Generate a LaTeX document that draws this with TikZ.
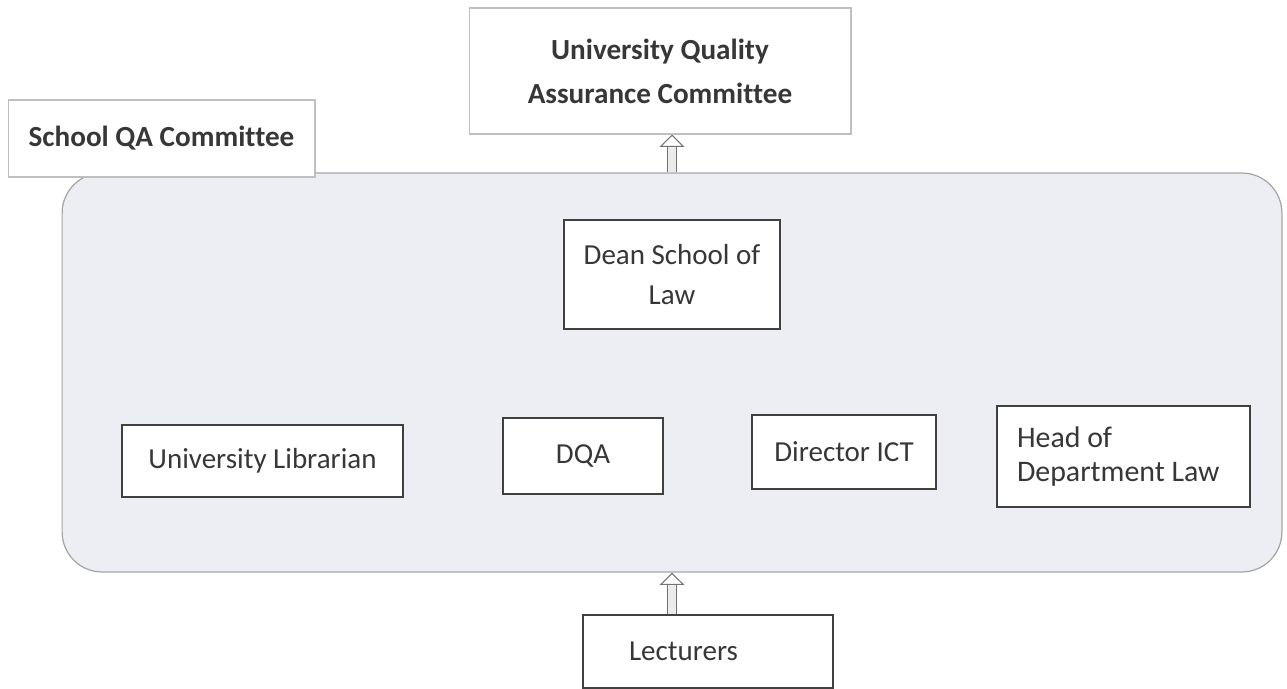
\documentclass[tikz,border=0pt]{standalone}
\usepackage{fontspec}
\setmainfont{Carlito}[Ligatures=NoCommon]
\usetikzlibrary{arrows.meta}
\definecolor{groupfill}{RGB}{236,238,244}
\definecolor{inkgray}{RGB}{55,55,55}
\tikzset{
  box/.style={draw=black!75,line width=0.7pt,fill=white,text=inkgray,align=center},
  palebox/.style={draw=black!25,line width=0.6pt,fill=white,text=inkgray,align=center,
    font=\bfseries\fontsize{16.6}{25}\selectfont},
  uparrow/.style={draw=black!55,line width=0.6pt,double=black!8,double distance=4.4pt,
    -{Triangle[open,length=7pt,width=14pt]}}
}
\begin{document}
\begin{tikzpicture}[x=0.02cm,y=-0.02cm,font=\fontsize{16.5}{22}\selectfont]

\useasboundingbox (0,0) rectangle (1287,689);

\node[draw=black!35,line width=0.7pt,fill=groupfill,rounded corners=0.8cm,
  minimum width=24.4cm,minimum height=7.98cm] (group) at (672,372.5) {};

\node[palebox,minimum width=7.64cm,minimum height=2.52cm] (uqac) at (660,71) {University Quality\\Assurance Committee};
\node[palebox,minimum width=6.14cm,minimum height=1.54cm] (school) at (161.5,138.5) {School QA Committee};

\node[box,minimum width=4.32cm,minimum height=2.18cm,
  font=\fontsize{16.5}{22.5}\selectfont] (dean) at (672,274.5) {Dean School of\\Law};

\node[box,minimum width=5.62cm,minimum height=1.44cm] (lib) at (262.5,461) {University Librarian};
\node[box,minimum width=3.2cm,minimum height=1.52cm] (dqa) at (583,456) {DQA};
\node[box,minimum width=3.68cm,minimum height=1.48cm] (ict) at (844,452) {Director ICT};
\node[box,align=flush left,text width=4.26cm,inner xsep=0.4cm,minimum height=2.02cm,
  font=\fontsize{17}{19.5}\selectfont] (hod) at (1123.5,456.5) {Head of\\Department Law};

\node[box,align=flush left,text width=3.16cm,inner xsep=0.92cm,minimum height=1.46cm] (lect) at (708,651.5) {Lecturers};

\draw[uparrow] (group.north) -- (group.north |- uqac.south);
\draw[uparrow] (group.south |- lect.north) -- (group.south);

\end{tikzpicture}
\end{document}
